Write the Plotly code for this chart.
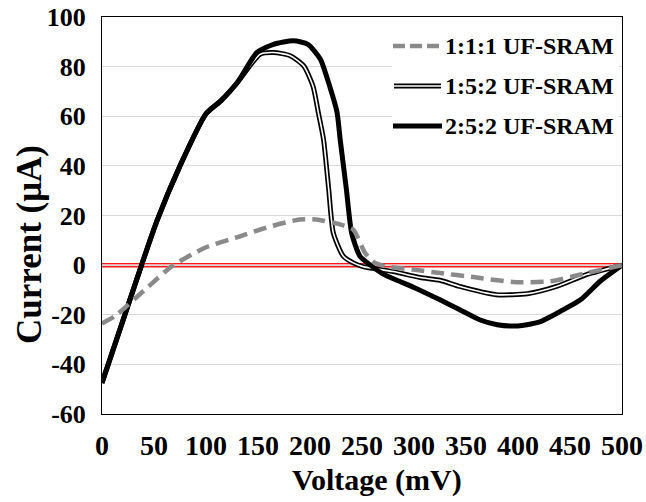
import plotly.graph_objects as go

# ---- data ----
v_222 = [0, 38, 53, 75, 100, 115, 130, 149, 165, 184, 198, 210, 219, 226, 229, 235, 240, 248, 258, 270, 283, 300, 325, 344, 363, 380, 400, 420, 437, 460, 479, 500]
i_222 = [-47.5, 0, 18, 40, 61, 66.5, 73.5, 85.7, 89, 90.4, 89, 83, 72, 61.6, 50.7, 30.5, 13, 3.6, 0, -3.5, -6, -9, -14, -18, -22, -24, -24.5, -23, -19.5, -14, -6.5, 0]

v_152 = [0, 38, 53, 75, 100, 115, 130, 152, 165, 181, 194, 203, 208, 213, 218, 222.4, 232, 241.6, 251, 280, 306, 325, 344, 379, 409, 437, 466, 500]
i_152 = [-47.5, 0, 18, 40, 61, 66.5, 73.5, 85, 85.7, 84.4, 80.3, 72, 61.5, 50.7, 30.5, 13, 3.6, 0.9, -0.6, -2.6, -5, -6.1, -8.6, -11.9, -11.5, -8.6, -3.8, 0]

v_111 = [0, 12.5, 41, 67, 99, 132, 161, 190, 206, 229, 241.6, 253, 262.5, 274, 299, 325, 357, 395, 431, 466, 500]
i_111 = [-23.5, -20.5, -10, -0.5, 7, 11.5, 15.5, 18.4, 18.4, 16.4, 14.3, 4.9, 0.9, -0.6, -1.8, -3.2, -4.8, -6.8, -6.5, -3.2, 0]

names = ["1:1:1 UF-SRAM", "1:5:2 UF-SRAM", "2:5:2 UF-SRAM"]
x_ticks = [0, 50, 100, 150, 200, 250, 300, 350, 400, 450, 500]
y_ticks = [-60, -40, -20, 0, 20, 40, 60, 80, 100]

FONT = "Liberation Serif"
GRAY = "#8a8a8a"
SM = 0.6

fig = go.Figure()
# double line 1:5:2 : black outline with white core
fig.add_trace(go.Scatter(x=v_152, y=i_152, mode="lines", name=names[1],
                         line=dict(color="black", width=5, shape="spline", smoothing=SM),
                         showlegend=False, hoverinfo="skip"))
fig.add_trace(go.Scatter(x=v_152, y=i_152, mode="lines", name=names[1] + " core",
                         line=dict(color="white", width=1.6, shape="spline", smoothing=SM),
                         showlegend=False, hoverinfo="skip"))
# 2:5:2 thick black
fig.add_trace(go.Scatter(x=v_222, y=i_222, mode="lines", name=names[2],
                         line=dict(color="black", width=5, shape="spline", smoothing=SM),
                         showlegend=False))
# 1:1:1 gray dashed
fig.add_trace(go.Scatter(x=v_111, y=i_111, mode="lines", name=names[0],
                         line=dict(color=GRAY, width=4.5, dash="13px,7px", shape="spline", smoothing=SM),
                         showlegend=False))

# red double zero line
fig.add_shape(type="line", xref="x", yref="y", x0=0, x1=500, y0=0, y1=0,
              line=dict(color="#ff1a1a", width=4.5), layer="below")
fig.add_shape(type="line", xref="x", yref="y", x0=0, x1=500, y0=0, y1=0,
              line=dict(color="#ffd6d6", width=1.8), layer="below")

# ---- manual legend ----
W, H = 520.0, 397.0
L, T = 102.0, 17.0
def px(x):
    return (x - L) / W
def py(y):
    return (T + H - y) / H

fig.add_shape(type="rect", xref="paper", yref="paper", x0=px(392), x1=px(619), y0=py(145), y1=py(27),
              line=dict(width=0), fillcolor="white", layer="above")
rows = [46, 86, 126]
fig.add_shape(type="line", xref="paper", yref="paper", x0=px(393), x1=px(442), y0=py(rows[0]), y1=py(rows[0]),
              line=dict(color=GRAY, width=4.5, dash="12px,5px"))
fig.add_shape(type="line", xref="paper", yref="paper", x0=px(394), x1=px(441), y0=py(rows[1]), y1=py(rows[1]),
              line=dict(color="black", width=5))
fig.add_shape(type="line", xref="paper", yref="paper", x0=px(394), x1=px(441), y0=py(rows[1]), y1=py(rows[1]),
              line=dict(color="white", width=1.6))
fig.add_shape(type="line", xref="paper", yref="paper", x0=px(393), x1=px(442), y0=py(rows[2]), y1=py(rows[2]),
              line=dict(color="black", width=5))
for r, n in zip(rows, names):
    fig.add_annotation(xref="paper", yref="paper", x=px(443), y=py(r), text="<b>%s</b>" % n,
                       showarrow=False, xanchor="left", yanchor="middle",
                       font=dict(family=FONT, size=24, color="black"))

# axis titles
fig.add_annotation(xref="paper", yref="paper", x=px(29), y=py(245), text="<b>Current (μA)</b>",
                   showarrow=False, textangle=-90, xanchor="center", yanchor="middle",
                   font=dict(family=FONT, size=35, color="black"))
fig.add_annotation(xref="paper", yref="paper", x=px(377), y=py(480), text="<b>Voltage (mV)</b>",
                   showarrow=False, xanchor="center", yanchor="middle",
                   font=dict(family=FONT, size=30, color="black"))

fig.update_layout(
    width=646, height=502,
    margin=dict(l=102, r=24, t=17, b=88, autoexpand=False),
    paper_bgcolor="white", plot_bgcolor="white",
    showlegend=False,
    font=dict(family=FONT, color="black"),
    xaxis=dict(range=[0, 500], tickvals=x_ticks, ticktext=["<b>%d</b>" % t for t in x_ticks],
               showgrid=False, zeroline=False, showline=True, linecolor="black", linewidth=1,
               mirror=True, ticks="", ticklabelstandoff=6, automargin=False,
               tickfont=dict(family=FONT, size=28, color="black")),
    yaxis=dict(range=[-60, 100], tickvals=y_ticks, ticktext=["<b>%d</b>" % t for t in y_ticks],
               showgrid=True, gridcolor="#d9d9d9", gridwidth=1, zeroline=False,
               showline=True, linecolor="black", linewidth=1, mirror=True,
               ticks="", ticklabelstandoff=10, automargin=False,
               tickfont=dict(family=FONT, size=26, color="black")),
)

fig.write_html("out.html")
